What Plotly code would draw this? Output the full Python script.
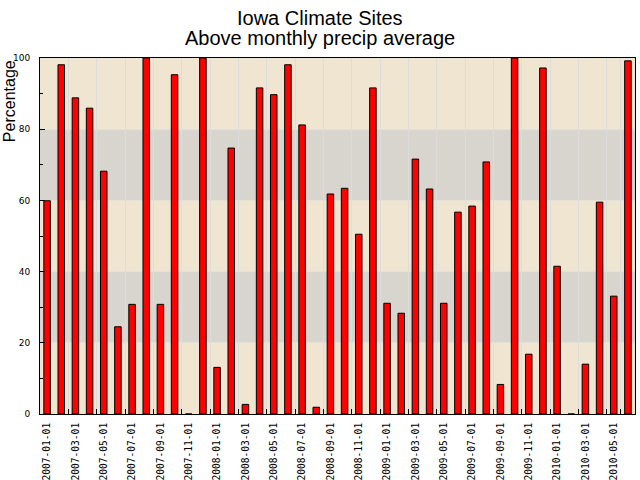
#!/usr/bin/env python3
import plotly.graph_objects as go

# monthly values
months = ['2007-01-01', '2007-02-01', '2007-03-01', '2007-04-01', '2007-05-01', '2007-06-01',
          '2007-07-01', '2007-08-01', '2007-09-01', '2007-10-01', '2007-11-01', '2007-12-01',
          '2008-01-01', '2008-02-01', '2008-03-01', '2008-04-01', '2008-05-01', '2008-06-01',
          '2008-07-01', '2008-08-01', '2008-09-01', '2008-10-01', '2008-11-01', '2008-12-01',
          '2009-01-01', '2009-02-01', '2009-03-01', '2009-04-01', '2009-05-01', '2009-06-01',
          '2009-07-01', '2009-08-01', '2009-09-01', '2009-10-01', '2009-11-01', '2009-12-01',
          '2010-01-01', '2010-02-01', '2010-03-01', '2010-04-01', '2010-05-01', '2010-06-01']

percent = [59.9, 98.1, 88.8, 85.9, 68.2, 24.5,
           30.8, 100.0, 30.8, 95.3, 0.0, 100.0,
           13.1, 74.7, 2.7, 91.6, 89.7, 98.1,
           81.2, 1.9, 61.8, 63.4, 50.5, 91.6,
           31.1, 28.3, 71.6, 63.2, 31.1, 56.7,
           58.4, 70.8, 8.3, 100.0, 16.8, 97.2,
           41.5, 0.0, 14.0, 59.5, 33.1, 99.2]

tick_months = months[::2]

# background bands (from, to, colour)
band_edges = [0, 20, 40, 60, 80, 100]
band_colors = ['#f0e5d0', '#d8d4ce', '#f0e5d0', '#d8d4ce', '#f0e5d0']


def build_figure():

    fig = go.Figure()

    fig.add_trace(go.Bar(x=months, y=percent, width=0.46,
                         marker=dict(color='#ff0000',
                                     line=dict(color='black', width=1))))

    for i in range(len(band_colors)):
        fig.add_shape(type='rect', xref='paper', yref='y',
                      x0=0, x1=1, y0=band_edges[i], y1=band_edges[i + 1],
                      fillcolor=band_colors[i], line_width=0, layer='below')

    fig.update_xaxes(type='category', range=[-0.5, len(months) - 0.5],
                     tickmode='array', tickvals=tick_months, ticktext=tick_months,
                     tickson='boundaries', ticks='inside', ticklen=5,
                     tickcolor='black', tickangle=-90, automargin=False,
                     tickfont=dict(family='DejaVu Sans Mono', size=9.6, color='black'),
                     ticklabelstandoff=4,
                     showgrid=True, gridcolor='#dcdcdc', gridwidth=1,
                     showline=True, linecolor='black', linewidth=1, mirror=True,
                     zeroline=False)

    fig.update_yaxes(range=[0, 100], dtick=20, ticks='inside', ticklen=5,
                     tickcolor='black', automargin=False,
                     minor=dict(dtick=10, ticks='inside', ticklen=3,
                                tickcolor='black', showgrid=False),
                     tickfont=dict(family='DejaVu Sans', size=9, color='black'),
                     ticklabelstandoff=7,
                     showgrid=True, gridcolor='#e4e0da', gridwidth=1,
                     showline=True, linecolor='black', linewidth=1, mirror=True,
                     zeroline=False)

    fig.add_annotation(text='Iowa Climate Sites', xref='paper', yref='paper',
                       x=0.4706, y=1.112, xanchor='center', yanchor='middle',
                       showarrow=False,
                       font=dict(family='Liberation Sans', size=20, color='black'))
    fig.add_annotation(text='Above monthly precip average', xref='paper', yref='paper',
                       x=0.4706, y=1.057, xanchor='center', yanchor='middle',
                       showarrow=False,
                       font=dict(family='Liberation Sans', size=20, color='black'))
    fig.add_annotation(text='Percentage', xref='paper', yref='paper',
                       x=-0.052, y=0.879, xanchor='center', yanchor='middle',
                       textangle=-90, showarrow=False,
                       font=dict(family='Liberation Sans', size=16, color='black'))

    fig.update_layout(width=640, height=480, showlegend=False,
                      margin=dict(l=40, r=5, t=58, b=66),
                      paper_bgcolor='white', plot_bgcolor='#f0e5d0',
                      bargap=0.5)

    return fig


fig = build_figure()
# the page's default body margin would shift the chart by 8px
fig.write_html("out.html", config={'displayModeBar': False},
               post_script="document.body.style.margin='0';")
